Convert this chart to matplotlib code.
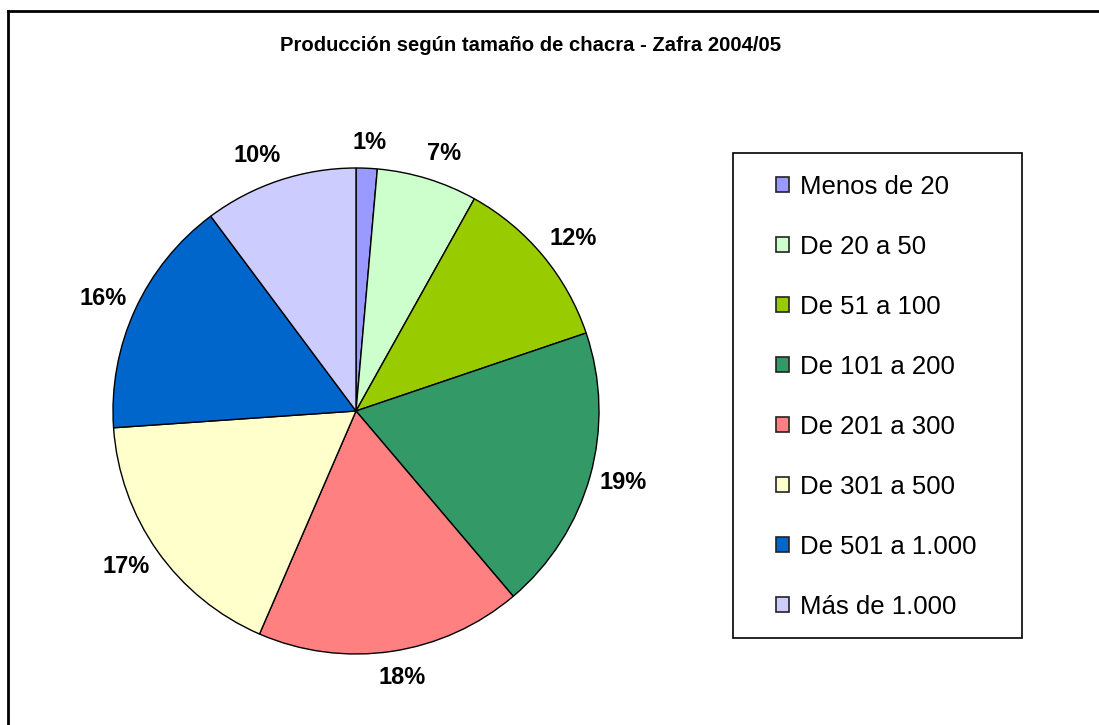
import numpy as np
import matplotlib
matplotlib.use("Agg")
import matplotlib.pyplot as plt
from matplotlib.patches import Patch, Rectangle
from matplotlib.lines import Line2D

plt.rcParams['font.family'] = ['Liberation Sans', 'DejaVu Sans']

# Datos (porcentaje de produccion)
categorias = ["Menos de 20", "De 20 a 50", "De 51 a 100", "De 101 a 200",
              "De 201 a 300", "De 301 a 500", "De 501 a 1.000", "Más de 1.000"]
valores = [1.4, 6.7, 11.7, 19.0, 17.7, 17.4, 15.9, 10.2]
colores = ["#9999FF", "#CCFFCC", "#99CC00", "#339966",
           "#FF8080", "#FFFFCC", "#0066CC", "#CCCCFF"]

W, H = 1099, 725
fig = plt.figure(figsize=(W / 100, H / 100), dpi=100)

# pie axes: centre (356, 411), radius 243 px
cx, cy, r = 356, 411, 243
ax = fig.add_axes([(cx - r) / W, (H - cy - r) / H, 2 * r / W, 2 * r / H])
wedges, texts, autotexts = ax.pie(valores, colors=colores, startangle=90,
                                  counterclock=False, autopct='%.0f%%',
                                  pctdistance=1.14,
                                  wedgeprops=dict(edgecolor='black', linewidth=1))
ax.set_xlim(-1, 1)
ax.set_ylim(-1, 1)
ax.set_aspect('equal')
ax.axis('off')

# place labels Excel-style: box just outside the pie edge
fig.canvas.draw()
renderer = fig.canvas.get_renderer()
gap = 15
for w, t in zip(wedges, autotexts):
    t.set_fontsize(17)
    t.set_fontweight('bold')
    t.set_ha('center')
    t.set_va('center')
    ang = np.deg2rad(0.5 * (w.theta1 + w.theta2))
    dx, dy = np.cos(ang), np.sin(ang)
    tw = t.get_window_extent(renderer).width
    px = dx * (r + gap) + 0.8 * tw / 2 * np.clip(3 * dx, -1, 1)
    py = dy * (r + gap) + 11 * dy
    t.set_position((px / r, py / r))

fig.text(531 / W, 1 - 51 / H,
         "Producción según tamaño de chacra - Zafra 2004/05",
         ha='center', va='baseline', fontsize=14.6, fontweight='bold')

# legend box
fig.add_artist(Rectangle((733 / W, 1 - 638 / H), (1022 - 733) / W, (638 - 153) / H,
                         transform=fig.transFigure, facecolor='none',
                         edgecolor='black', linewidth=1.2))
handles = [Patch(facecolor=c, edgecolor='#222222', linewidth=1.2) for c in colores]
leg = fig.legend(handles, categorias, loc='upper left',
                 bbox_to_anchor=(776 / W, 1 - 175 / H), frameon=False,
                 fontsize=18.5, handlelength=0.52, handleheight=0.52,
                 handletextpad=0.42, labelspacing=1.40, borderaxespad=0,
                 borderpad=0)

# chart area border (top and left visible)
fig.add_artist(Line2D([7.5 / W, 7.5 / W], [0, 1 - 11 / H], color='black',
                      linewidth=2, transform=fig.transFigure))
fig.add_artist(Line2D([7.5 / W, 1], [1 - 11 / H, 1 - 11 / H], color='black',
                      linewidth=2, transform=fig.transFigure))

fig.savefig("out.png", dpi=100)
